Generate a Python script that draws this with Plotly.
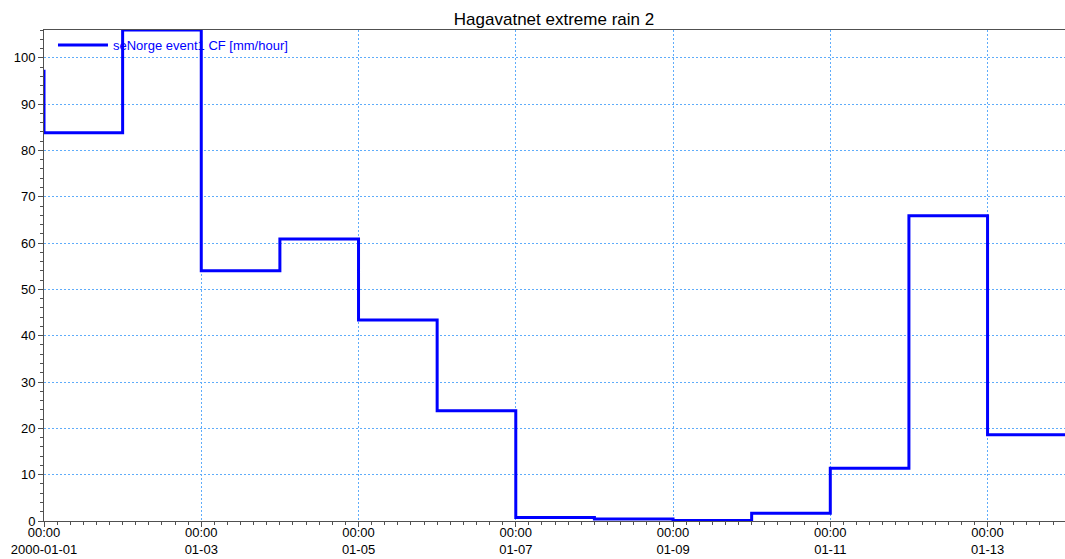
import pandas as pd
import plotly.graph_objects as go

# Daily precipitation step series (value holds from each timestamp to the next)
times = ["1999-12-31", "2000-01-01", "2000-01-02", "2000-01-03", "2000-01-04",
         "2000-01-05", "2000-01-06", "2000-01-07", "2000-01-08", "2000-01-09",
         "2000-01-10", "2000-01-11", "2000-01-12", "2000-01-13", "2000-01-14"]
rain = [97.1, 83.8, 106.0, 54.0, 60.9, 43.4, 23.8, 0.78, 0.43, 0.13,
        1.7, 11.4, 65.9, 18.6, 18.6]

tick_dates = ["2000-01-01", "2000-01-03", "2000-01-05", "2000-01-07",
              "2000-01-09", "2000-01-11", "2000-01-13"]
tick_text = ["00:00<br>2000-01-01", "00:00<br>01-03", "00:00<br>01-05",
             "00:00<br>01-07", "00:00<br>01-09", "00:00<br>01-11", "00:00<br>01-13"]
y_ticks = list(range(0, 101, 10))

# Work on a linear axis measured in days since the start of the period
t0 = pd.Timestamp("2000-01-01")
x_days = [(pd.Timestamp(t) - t0) / pd.Timedelta(days=1) for t in times]
tick_days = [(pd.Timestamp(t) - t0) / pd.Timedelta(days=1) for t in tick_dates]

FONT = "Liberation Sans, Arial, sans-serif"
GRID = "rgb(95,172,250)"
AXIS = "#505050"

fig = go.Figure()
fig.add_trace(go.Scatter(
    x=x_days, y=rain, mode="lines", line_shape="hv",
    line=dict(color="#0000ff", width=3),
    name="seNorge event1 CF [mm/hour]",
))

fig.update_layout(
    width=1065, height=559,
    margin=dict(l=44, r=0, t=30, b=38, autoexpand=False),
    paper_bgcolor="white", plot_bgcolor="white",
    title=dict(text="Hagavatnet extreme rain 2", x=554 / 1065, xanchor="center",
               y=1 - 19 / 559, yanchor="middle",
               font=dict(family=FONT, size=17, color="black")),
    font=dict(family=FONT, size=13, color="black"),
    showlegend=True,
    legend=dict(x=0.0088, y=1.0, xanchor="left", yanchor="top",
                bgcolor="rgba(0,0,0,0)", borderwidth=0,
                font=dict(family=FONT, size=13, color="#0000ff"),
                itemwidth=50, tracegroupgap=0),
    xaxis=dict(
        type="linear", range=[0, 12.985], automargin=False,
        tickmode="array", tickvals=tick_days, ticktext=tick_text, tickangle=0,
        tickfont=dict(family=FONT, size=13, color="black"),
        ticklabelstandoff=-6,
        showline=True, linecolor=AXIS, linewidth=1, mirror=True,
        ticks="outside", ticklen=5, tickcolor=AXIS,
        showgrid=True, gridcolor=GRID, griddash="2px,2px", gridwidth=1,
        minor=dict(dtick=1 / 6, tick0=0, ticks="outside", ticklen=3,
                   tickcolor=AXIS, showgrid=False),
        zeroline=False,
    ),
    yaxis=dict(
        range=[0, 106], automargin=False,
        tickmode="array", tickvals=y_ticks,
        tickfont=dict(family=FONT, size=13, color="black"),
        showline=True, linecolor=AXIS, linewidth=1,
        ticks="outside", ticklen=5, tickcolor=AXIS,
        showgrid=True, gridcolor=GRID, griddash="2px,2px", gridwidth=1,
        minor=dict(dtick=2, tick0=0, ticks="outside", ticklen=3,
                   tickcolor=AXIS, showgrid=False),
        zeroline=False,
    ),
)

fig.write_html("out.html")
